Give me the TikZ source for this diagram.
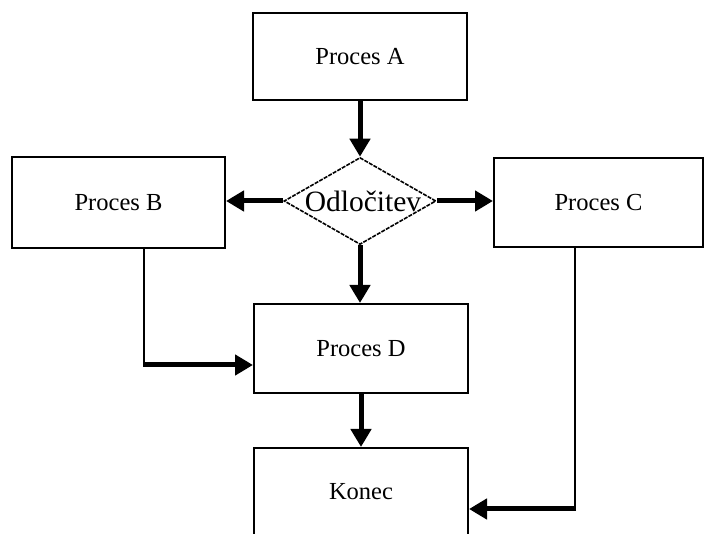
\documentclass[tikz,border=0pt]{standalone}
\usepackage{fontspec}
\setmainfont{Liberation Serif}
\usetikzlibrary{arrows.meta,shapes.geometric}
\tikzset{
  procbox/.style={draw, line width=2pt, inner sep=0pt, font=\fontsize{24.5}{27}\selectfont},
  decision/.style={diamond, draw, line width=1.6pt, dash pattern=on 4pt off 1.2pt, inner sep=0pt,
                   minimum width=152pt, minimum height=87pt},
  flow/.style={line width=5pt, -{Triangle[length=18pt,width=20pt]}},
  feed/.style={line width=2pt},
}
\begin{document}
\begin{tikzpicture}[x=1pt,y=-1pt]
  \useasboundingbox (0,0) rectangle (705,534);
  \clip (0,0) rectangle (705,534);
  \fill[white] (0,0) rectangle (705,534);

  % process boxes
  \node[procbox, minimum width=214pt, minimum height=87pt] (A) at (360,56.5) {Proces A};
  \node[procbox, minimum width=213pt, minimum height=91pt] (B) at (118.5,202.5) {Proces B};
  \node[procbox, minimum width=209pt, minimum height=89pt] (C) at (598.5,202.5) {Proces C};
  \node[procbox, minimum width=214pt, minimum height=89pt] (D) at (361,348.5) {Proces D};
  \node[procbox, minimum width=214pt, minimum height=88pt] (E) at (361,492) {Konec};

  % decision
  \node[decision, label={[font=\fontsize{29.5}{32}\selectfont, xshift=3pt]center:Odločitev}] (O) at (360,201) {};

  % main flow
  \draw[flow] (A.south -| O.north) -- (O.north);
  \draw[flow] (O.west) -- (O.west -| B.east);
  \draw[flow] (O.east) -- (O.east -| C.west);
  \draw[flow] (O.south) -- (O.south |- D.north);
  \draw[flow] (D.south) -- (E.north);

  % side branches
  \coordinate (bd) at ([xshift=25.5pt,yshift=-116pt]B.south);
  \draw[feed] ([xshift=25.5pt]B.south) -- (bd);
  \draw[flow] ([xshift=-1pt]bd) -- (bd -| D.west);

  \coordinate (ce) at ([xshift=-23.5pt,yshift=-261pt]C.south);
  \draw[feed] ([xshift=-23.5pt]C.south) -- (ce);
  \draw[flow] ([xshift=1pt]ce) -- (ce -| E.east);
\end{tikzpicture}
\end{document}
